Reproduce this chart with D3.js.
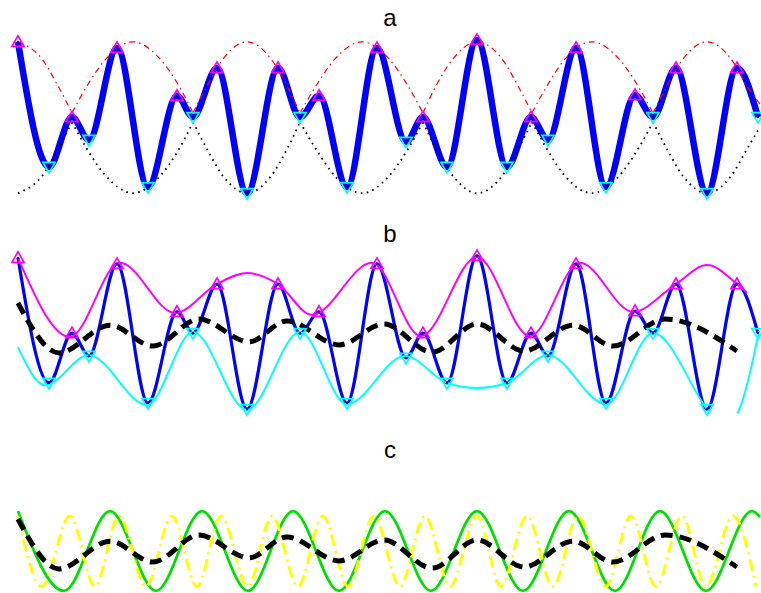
<!DOCTYPE html>
<html>
<head>
<meta charset="utf-8">
<title>EMD sifting</title>
<style>
  body { margin: 0; background: #fff; }
  svg { display: block; }
</style>
</head>
<body>
<svg width="761" height="593"></svg>
<script src="https://d3js.org/d3.v7.min.js"></script>
<script>
const titles = ["a", "b", "c"]

// two-tone signal, its extrema (time in % of record, amplitude)
const sigT = [0.13, 4.31, 7.40, 9.69, 13.46, 17.63, 21.53, 23.69, 26.92, 30.96, 35.13, 38.09, 40.65, 44.41, 48.45,
              52.36, 54.64, 57.87, 61.91, 65.95, 69.18, 71.47, 75.24, 79.27, 83.18, 85.60, 88.69, 92.87, 96.90, 99.73]
const sigV = [1.99, -1.30, 0.01, -0.59, 1.83, -1.83, 0.57, 0.01, 1.30, -1.99, 1.30, 0.01, 0.57, -1.83, 1.83,
              -0.64, 0.01, -1.30, 2.04, -1.30, 0.01, -0.59, 1.83, -1.83, 0.59, 0.01, 1.30, -1.99, 1.30, 0.01]

// true envelopes (panel a)
const envT = [0.13, 3.36, 5.52, 7.40, 9.42, 11.98, 15.61, 19.25, 21.80, 23.69, 25.57, 27.73, 30.96, 34.19, 36.34,
              38.09, 40.24, 42.80, 46.43, 50.07, 52.62, 54.64, 56.39, 58.68, 61.91, 65.28, 67.43, 69.31, 71.33, 73.76,
              77.39, 81.02, 83.58, 85.60, 87.48, 89.64, 92.87, 96.10, 98.25, 100]
const envUpper = [1.99, 1.54, 0.83, 0.12, 0.83, 1.54, 1.99, 1.54, 0.83, 0.12, 0.83, 1.54, 1.99, 1.54, 0.83,
                  0.12, 0.83, 1.54, 1.99, 1.54, 0.83, 0.12, 0.83, 1.54, 1.99, 1.54, 0.83, 0.12, 0.83, 1.54,
                  1.99, 1.54, 0.83, 0.12, 0.83, 1.54, 1.99, 1.54, 0.83, 0.35]
const envLower = [-1.99, -1.54, -0.83, -0.12, -0.83, -1.54, -1.99, -1.54, -0.83, -0.12, -0.83, -1.54, -1.99, -1.54, -0.83,
                  -0.12, -0.83, -1.54, -1.99, -1.54, -0.83, -0.12, -0.83, -1.54, -1.99, -1.54, -0.83, -0.12, -0.83, -1.54,
                  -1.99, -1.54, -0.83, -0.12, -0.83, -1.54, -1.99, -1.54, -0.83, -0.25]

// spline envelopes through the extrema (panel b)
const upT = [0.13, 7.13, 13.86, 21.27, 26.92, 30.96, 35.13, 39.70, 47.78, 54.37, 61.91, 69.04, 75.77, 82.91, 88.69, 92.87, 96.90, 98.25]
const upV = [1.99, -0.09, 1.86, 0.54, 1.30, 1.59, 1.30, 0.49, 1.86, -0.07, 2.01, -0.07, 1.86, 0.57, 1.30, 1.80, 1.30, 1.07]
const loT = [0.13, 3.77, 9.69, 17.50, 23.69, 30.96, 38.09, 44.41, 52.22, 57.87, 61.91, 65.95, 71.47, 79.27, 85.60, 92.87, 94.89, 97.04, 99.87]
const loV = [-0.36, -1.36, -0.57, -1.88, 0.04, -2.01, 0.04, -1.86, -0.59, -1.30, -1.43, -1.30, -0.57, -1.86, 0.01, -1.99, -2.49, -2.07, 0.07]

// mean of the envelopes (panels b and c)
const meanT = [0.13, 5.65, 12.52, 18.30, 24.50, 31.22, 36.34, 43.34, 49.39, 55.85, 61.91, 68.24, 74.83, 80.22, 87.22, 96.90]
const meanV = [0.80, -0.51, 0.22, -0.33, 0.38, -0.22, 0.33, -0.30, 0.25, -0.49, 0.25, -0.46, 0.22, -0.33, 0.38, -0.46]

// the two tones (panel c)
const lowT = [0.13, 6.33, 12.52, 18.71, 24.90, 31.09, 37.15, 43.34, 49.53, 55.72, 61.91, 68.10, 74.29, 80.48, 86.54, 92.73, 98.92, 100]
const lowV = [1.01, -1.09, 1.01, -1.09, 1.01, -1.09, 1.01, -1.09, 1.01, -1.09, 1.01, -1.09, 1.01, -1.09, 1.01, -1.09, 1.01, 0.86]
const highT = [0.13, 3.36, 7.13, 10.50, 13.73, 17.36, 20.86, 24.23, 27.46, 31.09, 34.32, 37.82, 41.18, 44.55, 48.05,
               51.55, 54.91, 58.28, 61.91, 65.14, 68.64, 72.14, 75.50, 79.27, 82.64, 86.00, 89.50, 92.73, 96.37, 99.46]
const highV = [0.88, -0.97, 0.88, -0.97, 0.88, -0.97, 0.88, -0.97, 0.88, -0.97, 0.88, -0.97, 0.88, -0.97, 0.88,
               -0.97, 0.88, -0.97, 0.88, -0.97, 0.88, -0.97, 0.88, -0.97, 0.88, -0.97, 0.88, -0.97, 0.88, -0.97]

const svg = d3.select("svg")

const x = d3.scaleLinear().domain([0, 100]).range([17, 760])
const panelY = i => d3.scaleLinear().domain([-2.09, 2.09]).range([197 + 216 * i, 38 + 216 * i])

const pts = (ts, vs) => ts.map((t, i) => [t, vs[i]])
const lineFor = y => d3.line().x(d => x(d[0])).y(d => y(d[1])).curve(d3.curveMonotoneX)

// break |cos|-like envelopes at their cusps so the spline keeps the corner
const splitAtCusps = (data, sign) => {
    const parts = []
    let cur = [data[0]]
    for (let i = 1; i < data.length; i++) {
        cur.push(data[i])
        const next = data[i + 1]
        if (next && sign * (data[i][1] - data[i - 1][1]) < 0 && sign * (next[1] - data[i][1]) > 0) {
            parts.push(cur)
            cur = [data[i]]
        }
    }
    parts.push(cur)
    return parts
}

const drawExtrema = (g, y) => {
    const data = pts(sigT, sigV).map((d, i, a) => {
        const prev = a[i - 1], next = a[i + 1]
        const isMax = (!prev || d[1] > prev[1]) && (!next || d[1] > next[1])
        return {t: d[0], v: d[1], isMax}
    })
    const tri = d3.symbol(d3.symbolTriangle, 64)
    g.append("g")
        .selectAll("path")
        .data(data)
        .join("path")
        .attr("d", tri)
        .attr("transform", d => `translate(${x(d.t)},${y(d.v) + (d.isMax ? 1 : -1)}) rotate(${d.isMax ? 0 : 180})`)
        .attr("fill", "none")
        .attr("stroke", d => d.isMax ? "#ff00ff" : "#00ffff")
        .attr("stroke-width", 1.7)
    g.append("g")
        .selectAll("circle")
        .data(data)
        .join("circle")
        .attr("cx", d => x(d.t))
        .attr("cy", d => y(d.v))
        .attr("r", 1.1)
        .attr("fill", "#000050")
}

// titles
svg.append("g")
    .attr("font-family", "'Liberation Sans', Arial, Helvetica, sans-serif")
    .attr("font-size", 24)
    .attr("text-anchor", "middle")
    .selectAll("text")
    .data(titles)
    .join("text")
    .attr("x", 390)
    .attr("y", (d, i) => 26 + 216 * i)
    .text(d => d)

// panel a
{
    const y = panelY(0)
    const line = lineFor(y)
    const g = svg.append("g")
    g.append("path")
        .attr("d", line(pts(sigT, sigV)))
        .attr("fill", "none").attr("stroke", "#0000ff").attr("stroke-width", 6.5)
    g.selectAll("path.upper")
        .data(splitAtCusps(pts(envT, envUpper), 1))
        .join("path")
        .attr("class", "upper")
        .attr("d", line)
        .attr("fill", "none").attr("stroke", "#ff0000").attr("stroke-width", 1.2)
        .attr("stroke-dasharray", "6,4,1.5,4")
    g.selectAll("path.lower")
        .data(splitAtCusps(pts(envT, envLower), -1))
        .join("path")
        .attr("class", "lower")
        .attr("d", line)
        .attr("fill", "none").attr("stroke", "#000").attr("stroke-width", 1.8)
        .attr("stroke-dasharray", "1.6,4.4")
    drawExtrema(g, y)
}

// panel b
{
    const y = panelY(1)
    const line = lineFor(y)
    svg.append("clipPath").attr("id", "clip-b")
        .append("rect")
        .attr("x", 0).attr("y", y(2.09)).attr("width", 761).attr("height", y(-2.09) - y(2.09))
    const g = svg.append("g")
    g.append("path")
        .attr("d", line(pts(sigT, sigV)))
        .attr("fill", "none").attr("stroke", "#0000ff").attr("stroke-width", 3.2)
    g.append("path")
        .attr("d", line(pts(upT, upV)))
        .attr("clip-path", "url(#clip-b)")
        .attr("fill", "none").attr("stroke", "#ff00ff").attr("stroke-width", 2)
    g.append("path")
        .attr("d", line(pts(loT, loV)))
        .attr("clip-path", "url(#clip-b)")
        .attr("fill", "none").attr("stroke", "#00ffff").attr("stroke-width", 2)
    g.append("path")
        .attr("d", line(pts(meanT, meanV)))
        .attr("fill", "none").attr("stroke", "#000").attr("stroke-width", 5)
        .attr("stroke-dasharray", "12,7")
    drawExtrema(g, y)
}

// panel c
{
    const y = panelY(2)
    const line = lineFor(y)
    const g = svg.append("g")
    g.append("path")
        .attr("d", line(pts(lowT, lowV)))
        .attr("fill", "none").attr("stroke", "#00e000").attr("stroke-width", 2.8)
    g.append("path")
        .attr("d", line(pts(highT, highV)))
        .attr("fill", "none").attr("stroke", "#ffff00").attr("stroke-width", 3)
        .attr("stroke-dasharray", "12,5,2,5")
    g.append("path")
        .attr("d", line(pts(meanT, meanV)))
        .attr("fill", "none").attr("stroke", "#000").attr("stroke-width", 5)
        .attr("stroke-dasharray", "12,7")
}
</script>
</body>
</html>
